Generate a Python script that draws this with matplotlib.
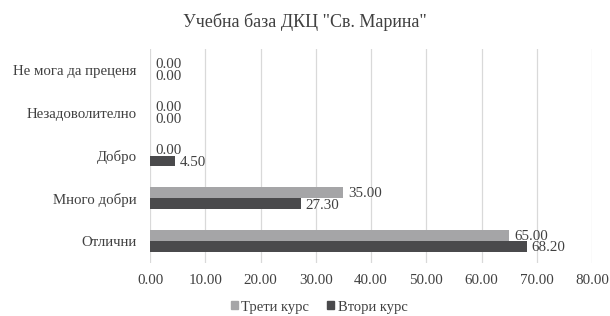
import matplotlib
matplotlib.use("Agg")
import matplotlib.pyplot as plt
import numpy as np
from matplotlib.patches import Patch

categories = ["Отлични", "Много добри", "Добро", "Незадоволително", "Не мога да преценя"]
series_names = ["Трети курс", "Втори курс"]
treti = [65.00, 35.00, 0.00, 0.00, 0.00]
vtori = [68.20, 27.30, 4.50, 0.00, 0.00]
xticks = [0, 10, 20, 30, 40, 50, 60, 70, 80]

plt.rcParams['font.family'] = ['Liberation Serif', 'DejaVu Serif']
c_light = "#A5A5A7"
c_dark = "#4A4A4C"
txt = "#404040"

fig = plt.figure(figsize=(6.10, 3.16), dpi=100)
ax = fig.add_axes([150/610, 1-262.5/316, (592-150)/610, (262.5-48.5)/316])

y = np.arange(len(categories))
h = 0.255
ax.barh(y + h/2, treti, height=h, color=c_light, label=series_names[0], zorder=3)
ax.barh(y - h/2, vtori, height=h, color=c_dark, label=series_names[1], zorder=3)

for yi, v in zip(y, treti):
    ax.text(v + 0.9, yi + h/2 - 0.01, f"{v:.2f}", va="center", ha="left", fontsize=10.8, color=txt, zorder=4)
for yi, v in zip(y, vtori):
    ax.text(v + 0.9, yi - h/2 - 0.03, f"{v:.2f}", va="center", ha="left", fontsize=10.8, color=txt, zorder=4)

ax.set_xlim(0, 80)
ax.set_ylim(-0.5, len(categories) - 0.5)
ax.set_xticks(xticks)
ax.set_xticklabels([f"{t:.2f}" for t in xticks], fontsize=10.8, color=txt)
ax.set_yticks(y)
ax.set_yticklabels(categories, fontsize=10.7, color=txt)
ax.tick_params(axis="both", length=0, pad=8)
ax.tick_params(axis="y", pad=9.5)
ax.grid(axis="x", color="#D9D9D9", linewidth=0.9, zorder=0)
for s in ax.spines.values():
    s.set_visible(False)

fig.text(0.5, 1 - 22/316, 'Учебна база ДКЦ "Св. Марина"', ha="center", va="center", fontsize=13, color=txt)

handles = [Patch(color=c_light), Patch(color=c_dark)]
fig.legend(handles, series_names, loc="center", bbox_to_anchor=(0.523, 1 - 307/316), ncol=2,
           frameon=False, fontsize=10.5, handlelength=0.5, handleheight=0.5, handletextpad=0.25,
           columnspacing=1.2, labelcolor=txt)

fig.savefig("out.png", dpi=100, facecolor="white")
